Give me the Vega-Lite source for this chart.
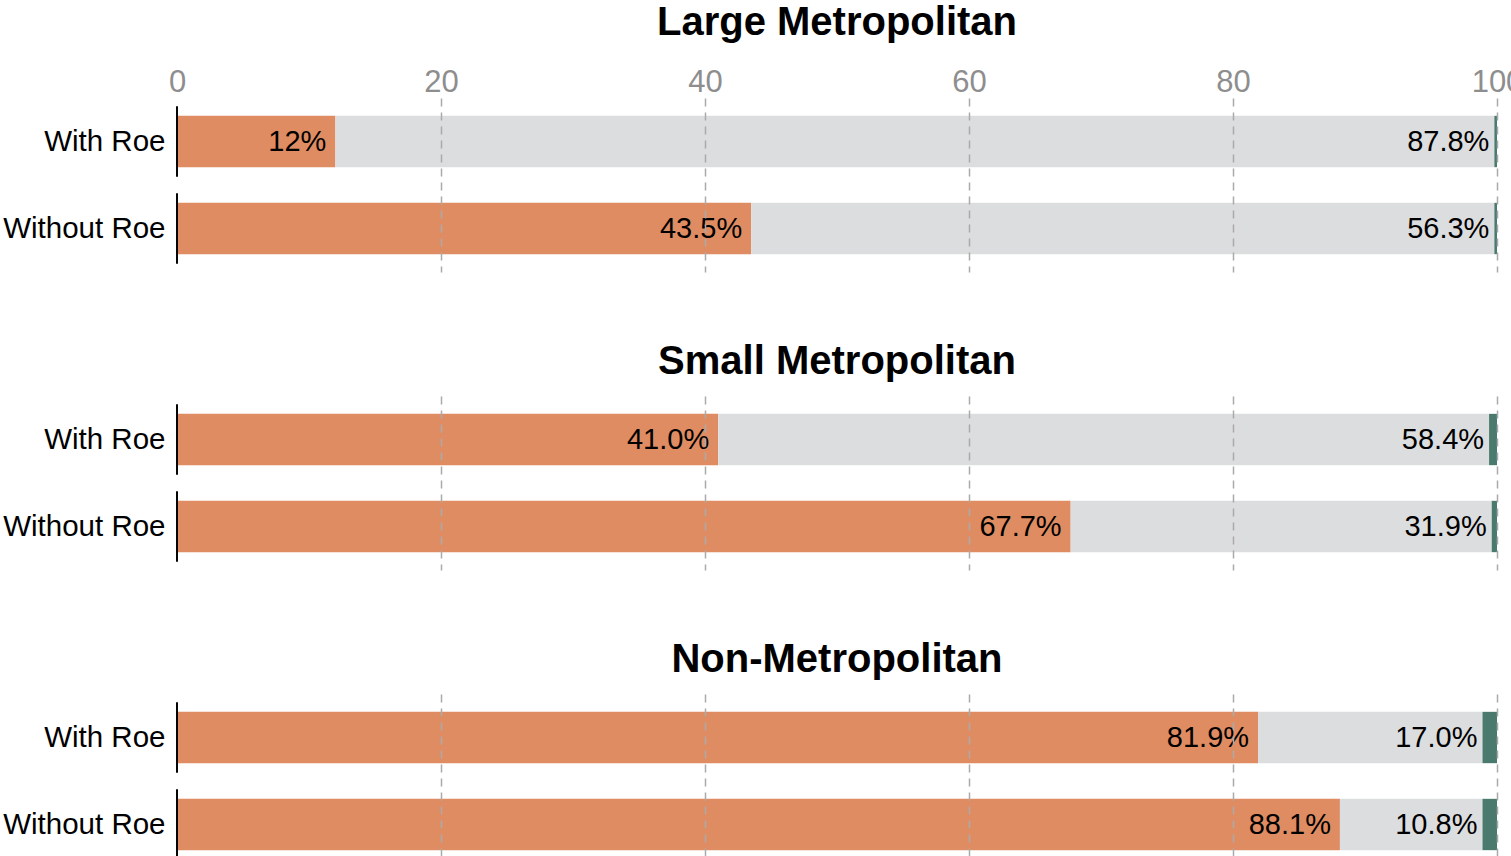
{
  "$schema": "https://vega.github.io/schema/vega-lite/v6.json",
  "padding": {"left": 2, "top": 3, "right": 0, "bottom": 0},
  "config": {
    "font": "Liberation Sans",
    "view": {"stroke": null},
    "concat": {"spacing": 70},
    "title": {"fontSize": 40, "fontWeight": "bold", "color": "black", "anchor": "middle", "offset": 14}
  },
  "data": {
    "values": [
      {"region": "Large Metropolitan", "scenario": "With Roe", "category": "Category A", "value": 12.0, "label": "12%"},
      {"region": "Large Metropolitan", "scenario": "With Roe", "category": "Category B", "value": 87.8, "label": "87.8%"},
      {"region": "Large Metropolitan", "scenario": "With Roe", "category": "Category C", "value": 0.2, "label": ""},
      {"region": "Large Metropolitan", "scenario": "Without Roe", "category": "Category A", "value": 43.5, "label": "43.5%"},
      {"region": "Large Metropolitan", "scenario": "Without Roe", "category": "Category B", "value": 56.3, "label": "56.3%"},
      {"region": "Large Metropolitan", "scenario": "Without Roe", "category": "Category C", "value": 0.2, "label": ""},
      {"region": "Small Metropolitan", "scenario": "With Roe", "category": "Category A", "value": 41.0, "label": "41.0%"},
      {"region": "Small Metropolitan", "scenario": "With Roe", "category": "Category B", "value": 58.4, "label": "58.4%"},
      {"region": "Small Metropolitan", "scenario": "With Roe", "category": "Category C", "value": 0.6, "label": ""},
      {"region": "Small Metropolitan", "scenario": "Without Roe", "category": "Category A", "value": 67.7, "label": "67.7%"},
      {"region": "Small Metropolitan", "scenario": "Without Roe", "category": "Category B", "value": 31.9, "label": "31.9%"},
      {"region": "Small Metropolitan", "scenario": "Without Roe", "category": "Category C", "value": 0.4, "label": ""},
      {"region": "Non-Metropolitan", "scenario": "With Roe", "category": "Category A", "value": 81.9, "label": "81.9%"},
      {"region": "Non-Metropolitan", "scenario": "With Roe", "category": "Category B", "value": 17.0, "label": "17.0%"},
      {"region": "Non-Metropolitan", "scenario": "With Roe", "category": "Category C", "value": 1.1, "label": ""},
      {"region": "Non-Metropolitan", "scenario": "Without Roe", "category": "Category A", "value": 88.1, "label": "88.1%"},
      {"region": "Non-Metropolitan", "scenario": "Without Roe", "category": "Category B", "value": 10.8, "label": "10.8%"},
      {"region": "Non-Metropolitan", "scenario": "Without Roe", "category": "Category C", "value": 1.1, "label": ""}
    ]
  },
  "vconcat": [
    {
      "title": {"text": "Large Metropolitan", "offset": 23},
      "width": 1320,
      "height": {"step": 87},
      "transform": [{"filter": "datum.region === 'Large Metropolitan'"}],
      "encoding": {
        "y": {"field": "scenario", "type": "nominal", "sort": ["With Roe", "Without Roe"],
          "scale": {"paddingInner": 0.41, "paddingOuter": 0.205},
          "axis": {"title": null, "ticks": false, "domain": false, "labelFontSize": 29.5, "labelColor": "black", "labelPadding": 12}}
      },
      "layer": [
        {
          "mark": {"type": "bar"},
          "encoding": {
            "x": {"field": "value", "type": "quantitative", "stack": "zero", "scale": {"domain": [0, 100]},
              "axis": {"orient": "top", "title": null, "ticks": false, "domain": false, "values": [0, 20, 40, 60, 80, 100],
                "labelFontSize": 31, "labelColor": "#8e8e8e", "labelPadding": 0, "labelFlush": false, "labelOverlap": false, "labelBound": false,
                "grid": true, "gridDash": [8, 6], "gridColor": "#aaaaaa", "gridWidth": 1.5, "zindex": 1,
                "gridOpacity": {"condition": {"test": "datum.value === 0", "value": 0}, "value": 1}}},
            "color": {"field": "category", "type": "nominal", "scale": {"domain": ["Category A", "Category B", "Category C"], "range": ["#e08c62", "#dcdddf", "#4a7a6e"]}, "legend": null},
            "order": {"field": "category", "sort": "ascending"}
          }
        },
        {
          "mark": {"type": "text", "align": "right", "dx": -9, "fontSize": 29, "color": "black"},
          "encoding": {
            "x": {"field": "value", "type": "quantitative", "stack": "zero"},
            "detail": {"field": "category", "type": "nominal"},
            "order": {"field": "category", "sort": "ascending"},
            "text": {"condition": {"test": "datum.category === 'Category A'", "field": "label"}, "value": ""}
          }
        },
        {
          "mark": {"type": "text", "align": "right", "dx": -5, "fontSize": 29, "color": "black"},
          "encoding": {
            "x": {"field": "value", "type": "quantitative", "stack": "zero"},
            "detail": {"field": "category", "type": "nominal"},
            "order": {"field": "category", "sort": "ascending"},
            "text": {"condition": {"test": "datum.category === 'Category B'", "field": "label"}, "value": ""}
          }
        },
        {
          "mark": {"type": "tick", "color": "black", "thickness": 2, "size": 70},
          "encoding": {"x": {"datum": 0, "type": "quantitative"}}
        }
      ]
    },
    {
      "title": {"text": "Small Metropolitan"},
      "width": 1320,
      "height": {"step": 87},
      "transform": [{"filter": "datum.region === 'Small Metropolitan'"}],
      "encoding": {
        "y": {"field": "scenario", "type": "nominal", "sort": ["With Roe", "Without Roe"],
          "scale": {"paddingInner": 0.41, "paddingOuter": 0.205},
          "axis": {"title": null, "ticks": false, "domain": false, "labelFontSize": 29.5, "labelColor": "black", "labelPadding": 12}}
      },
      "layer": [
        {
          "mark": {"type": "bar"},
          "encoding": {
            "x": {"field": "value", "type": "quantitative", "stack": "zero", "scale": {"domain": [0, 100]},
              "axis": {"orient": "top", "title": null, "ticks": false, "domain": false, "labels": false, "values": [0, 20, 40, 60, 80, 100],
                "grid": true, "gridDash": [8, 6], "gridColor": "#aaaaaa", "gridWidth": 1.5, "zindex": 1,
                "gridOpacity": {"condition": {"test": "datum.value === 0", "value": 0}, "value": 1}}},
            "color": {"field": "category", "type": "nominal", "scale": {"domain": ["Category A", "Category B", "Category C"], "range": ["#e08c62", "#dcdddf", "#4a7a6e"]}, "legend": null},
            "order": {"field": "category", "sort": "ascending"}
          }
        },
        {
          "mark": {"type": "text", "align": "right", "dx": -9, "fontSize": 29, "color": "black"},
          "encoding": {
            "x": {"field": "value", "type": "quantitative", "stack": "zero"},
            "detail": {"field": "category", "type": "nominal"},
            "order": {"field": "category", "sort": "ascending"},
            "text": {"condition": {"test": "datum.category === 'Category A'", "field": "label"}, "value": ""}
          }
        },
        {
          "mark": {"type": "text", "align": "right", "dx": -5, "fontSize": 29, "color": "black"},
          "encoding": {
            "x": {"field": "value", "type": "quantitative", "stack": "zero"},
            "detail": {"field": "category", "type": "nominal"},
            "order": {"field": "category", "sort": "ascending"},
            "text": {"condition": {"test": "datum.category === 'Category B'", "field": "label"}, "value": ""}
          }
        },
        {
          "mark": {"type": "tick", "color": "black", "thickness": 2, "size": 70},
          "encoding": {"x": {"datum": 0, "type": "quantitative"}}
        }
      ]
    },
    {
      "title": {"text": "Non-Metropolitan"},
      "width": 1320,
      "height": {"step": 87},
      "transform": [{"filter": "datum.region === 'Non-Metropolitan'"}],
      "encoding": {
        "y": {"field": "scenario", "type": "nominal", "sort": ["With Roe", "Without Roe"],
          "scale": {"paddingInner": 0.41, "paddingOuter": 0.205},
          "axis": {"title": null, "ticks": false, "domain": false, "labelFontSize": 29.5, "labelColor": "black", "labelPadding": 12}}
      },
      "layer": [
        {
          "mark": {"type": "bar"},
          "encoding": {
            "x": {"field": "value", "type": "quantitative", "stack": "zero", "scale": {"domain": [0, 100]},
              "axis": {"orient": "top", "title": null, "ticks": false, "domain": false, "labels": false, "values": [0, 20, 40, 60, 80, 100],
                "grid": true, "gridDash": [8, 6], "gridColor": "#aaaaaa", "gridWidth": 1.5, "zindex": 1,
                "gridOpacity": {"condition": {"test": "datum.value === 0", "value": 0}, "value": 1}}},
            "color": {"field": "category", "type": "nominal", "scale": {"domain": ["Category A", "Category B", "Category C"], "range": ["#e08c62", "#dcdddf", "#4a7a6e"]}, "legend": null},
            "order": {"field": "category", "sort": "ascending"}
          }
        },
        {
          "mark": {"type": "text", "align": "right", "dx": -9, "fontSize": 29, "color": "black"},
          "encoding": {
            "x": {"field": "value", "type": "quantitative", "stack": "zero"},
            "detail": {"field": "category", "type": "nominal"},
            "order": {"field": "category", "sort": "ascending"},
            "text": {"condition": {"test": "datum.category === 'Category A'", "field": "label"}, "value": ""}
          }
        },
        {
          "mark": {"type": "text", "align": "right", "dx": -5, "fontSize": 29, "color": "black"},
          "encoding": {
            "x": {"field": "value", "type": "quantitative", "stack": "zero"},
            "detail": {"field": "category", "type": "nominal"},
            "order": {"field": "category", "sort": "ascending"},
            "text": {"condition": {"test": "datum.category === 'Category B'", "field": "label"}, "value": ""}
          }
        },
        {
          "mark": {"type": "tick", "color": "black", "thickness": 2, "size": 70},
          "encoding": {"x": {"datum": 0, "type": "quantitative"}}
        }
      ]
    }
  ]
}
